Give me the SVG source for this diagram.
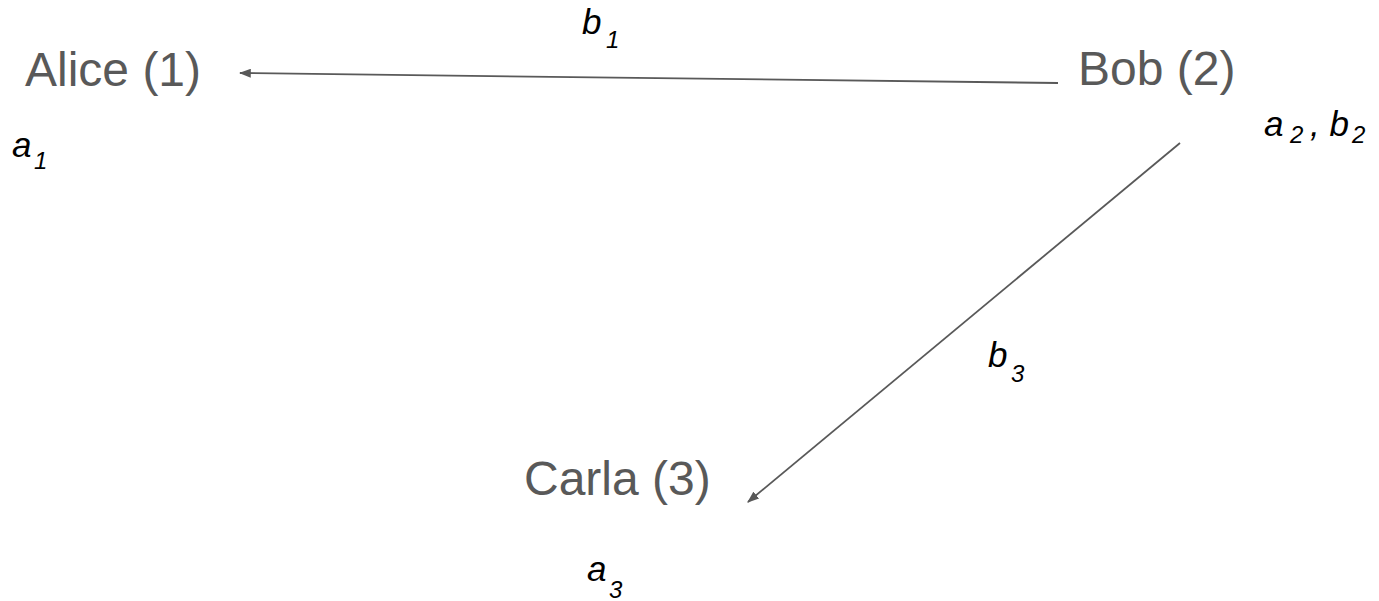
<svg xmlns="http://www.w3.org/2000/svg" width="1379" height="601" viewBox="0 0 1379 601">
<style>
.node{font-family:"Liberation Sans",Arial,sans-serif;font-size:48px;fill:#595959}
.lab{font-family:"Liberation Sans",Arial,sans-serif;font-size:35px;font-style:italic;fill:#000}
.sub{font-size:24px}
.conn{stroke:#595959;stroke-width:1.8;fill:none}
</style>
<defs>
<marker id="arr" viewBox="0 0 10 10" refX="9" refY="5" markerWidth="12" markerHeight="9" markerUnits="userSpaceOnUse" orient="auto" preserveAspectRatio="none">
<path d="M0,0 L10,5 L0,10 z" fill="#595959"/>
</marker>
</defs>
<rect width="1379" height="601" fill="#fff"/>
<g id="connectors">
<line class="conn" x1="1058" y1="83" x2="240" y2="73" marker-end="url(#arr)"/>
<line class="conn" x1="1180" y1="143" x2="748" y2="502" marker-end="url(#arr)"/>
</g>
<g id="alice">
<text class="node" x="25" y="86">Alice (1)</text>
<text class="lab" x="12" y="157">a<tspan class="sub" x="34" y="169">1</tspan></text>
</g>
<g id="bob">
<text class="node" x="1078" y="85">Bob (2)</text>
<text class="lab" x="1264" y="136">a<tspan class="sub" x="1290" y="143">2</tspan><tspan x="1310" y="136">, b</tspan><tspan class="sub" x="1352" y="143">2</tspan></text>
</g>
<g id="carla">
<text class="node" x="524" y="495">Carla (3)</text>
<text class="lab" x="587" y="581">a<tspan class="sub" x="609" y="598">3</tspan></text>
</g>
<g id="edge-labels">
<text class="lab" x="582" y="34">b<tspan class="sub" x="606" y="48">1</tspan></text>
<text class="lab" x="988" y="367">b<tspan class="sub" x="1011" y="382">3</tspan></text>
</g>
</svg>
